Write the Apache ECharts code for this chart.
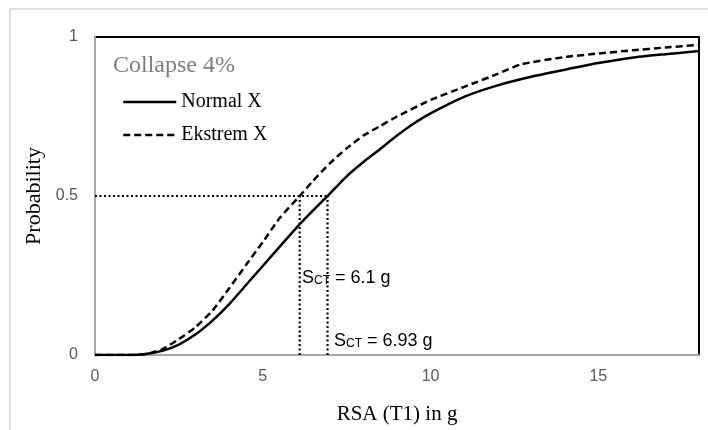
<!DOCTYPE html>
<html>
<head>
<meta charset="utf-8">
<script src="https://cdn.jsdelivr.net/npm/echarts@6/dist/echarts.min.js"></script>
<style>
  html, body { margin: 0; padding: 0; background: #fff; }
  #chart { width: 708px; height: 430px; }
</style>
</head>
<body>
<div id="chart"></div>
<script>
// fragility curves
const normalX = [0, 1, 1.5, 2, 2.5, 3, 3.5, 4, 4.5, 5, 5.5, 6, 6.5, 6.93, 7.5, 8, 8.5, 9, 9.5, 10, 11, 12, 13, 14, 15, 16, 17, 18]
const normalP = [0, 0, 0.003, 0.013, 0.033, 0.065, 0.108, 0.16, 0.22, 0.28, 0.34, 0.4, 0.455, 0.5, 0.562, 0.607, 0.648, 0.69, 0.728, 0.76, 0.812, 0.848, 0.875, 0.897, 0.918, 0.935, 0.946, 0.956]

const ekstremX = [0, 1, 1.5, 2, 2.5, 3, 3.5, 4, 4.5, 5, 5.5, 6.1, 6.5, 7, 7.5, 8, 8.5, 9, 10, 11, 12, 12.7, 14, 15, 16, 17, 18]
const ekstremP = [0, 0, 0.002, 0.018, 0.05, 0.088, 0.14, 0.21, 0.283, 0.355, 0.43, 0.5, 0.548, 0.603, 0.65, 0.69, 0.72, 0.75, 0.802, 0.843, 0.884, 0.914, 0.937, 0.948, 0.958, 0.967, 0.975]

// median collapse capacities
const sctNormal = 6.93
const sctEkstrem = 6.1
const pHalf = 0.5

const serif = '"Liberation Serif", "Times New Roman", serif'
const sans = '"Liberation Sans", Arial, sans-serif'

const zip = (xs, ys) => xs.map((x, i) => [x, ys[i]])
const dotted = { color: '#000', width: 2.2, type: [2, 2.5] }
const sctRich = {
  s: { fontFamily: sans, fontSize: 18, fill: '#000', verticalAlign: 'bottom' },
  sub: { fontFamily: sans, fontSize: 12, fill: '#000', padding: [8, 0, 0, 0] }
}

const chart = echarts.init(document.getElementById('chart'))
chart.setOption({
  animation: false,
  title: {
    text: 'Collapse 4%',
    left: 108, top: 49,
    textStyle: { fontFamily: serif, fontSize: 24, fontWeight: 'normal', color: '#7f7f7f' }
  },
  legend: {
    data: ['Normal X', 'Ekstrem X'],
    orient: 'vertical',
    left: 117, top: 87,
    itemWidth: 53, itemHeight: 14, itemGap: 13,
    itemStyle: { opacity: 0 },
    lineStyle: { width: 2.5 },
    textStyle: { fontFamily: serif, fontSize: 20, color: '#000' }
  },
  grid: {
    left: 95, top: 37, right: 9, bottom: 67,
    show: true, borderColor: '#000', borderWidth: 2
  },
  xAxis: {
    type: 'value', min: 0, max: 18, interval: 5,
    name: 'RSA (T1) in g', nameLocation: 'middle', nameGap: 49,
    nameTextStyle: { fontFamily: serif, fontSize: 21, color: '#000' },
    axisLine: { lineStyle: { color: '#a6a6a6', width: 2 } },
    axisTick: { show: false },
    splitLine: { show: false },
    axisLabel: { showMaxLabel: false, margin: 14, fontFamily: sans, fontSize: 16, color: '#595959' }
  },
  yAxis: {
    type: 'value', min: 0, max: 1, interval: 0.5,
    name: 'Probability', nameLocation: 'middle', nameGap: 43,
    nameTextStyle: { fontFamily: serif, fontSize: 22, color: '#000' },
    axisLine: { show: true, lineStyle: { color: '#a6a6a6', width: 2 } },
    axisTick: { show: false },
    splitLine: { show: false },
    axisLabel: { margin: 17, fontFamily: sans, fontSize: 16, color: '#595959' }
  },
  series: [
    {
      name: 'Normal X', type: 'line', data: zip(normalX, normalP),
      smooth: 0.2, symbol: 'none',
      lineStyle: { color: '#000', width: 2.5 }, itemStyle: { color: '#000' }, z: 3
    },
    {
      name: 'Ekstrem X', type: 'line', data: zip(ekstremX, ekstremP),
      smooth: 0.2, symbol: 'none',
      lineStyle: { color: '#000', width: 2.5, type: [7, 4] }, itemStyle: { color: '#000' }, z: 3
    },
    {
      name: 'half', type: 'line', symbol: 'none', silent: true,
      data: [[0, pHalf], [sctNormal, pHalf]], lineStyle: dotted
    },
    {
      name: 'sctE', type: 'line', symbol: 'none', silent: true,
      data: [[sctEkstrem, 0], [sctEkstrem, pHalf]], lineStyle: dotted
    },
    {
      name: 'sctN', type: 'line', symbol: 'none', silent: true,
      data: [[sctNormal, 0], [sctNormal, pHalf]], lineStyle: dotted
    }
  ],
  graphic: [
    {
      type: 'rect', silent: true, z: -1,
      shape: { x: 10, y: 9, width: 720, height: 440 },
      style: { fill: 'none', stroke: '#bfbfbf', lineWidth: 1 }
    },
    {
      type: 'text', left: 302, top: 269,
      style: { text: '{s|S}{sub|CT}{s| = 6.1 g}', rich: sctRich }
    },
    {
      type: 'text', left: 334, top: 332,
      style: { text: '{s|S}{sub|CT}{s| = 6.93 g}', rich: sctRich }
    }
  ]
})
</script>
</body>
</html>
